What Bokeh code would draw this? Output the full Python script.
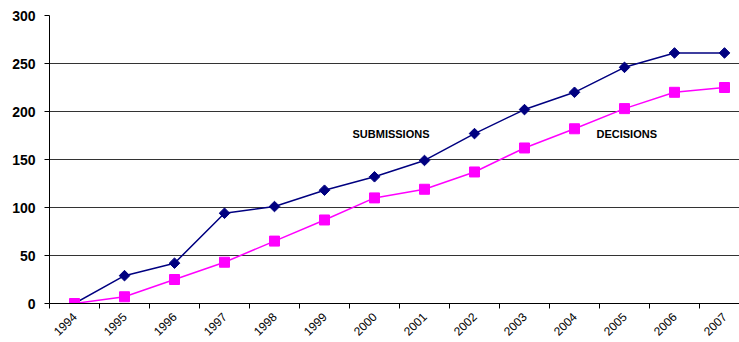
import math
from bokeh.plotting import figure
from bokeh.models import Range1d, FixedTicker, Label
from bokeh.embed import file_html
from bokeh.resources import INLINE

years = [1994, 1995, 1996, 1997, 1998, 1999, 2000, 2001, 2002, 2003, 2004, 2005, 2006, 2007]
submissions = [0, 29, 42, 94, 101, 118, 132, 149, 177, 202, 220, 246, 261, 261]
decisions = [0, 7, 25, 43, 65, 87, 110, 119, 137, 162, 182, 203, 220, 225]
y_ticks = [0, 50, 100, 150, 200, 250, 300]

FONT = "Liberation Sans"

p = figure(width=739, height=342, output_backend="svg", toolbar_location=None,
           x_range=Range1d(years[0] - 0.5, years[-1] + 0.3), y_range=Range1d(0, 300),
           min_border_left=49, min_border_right=0, min_border_top=15, min_border_bottom=39)
p.outline_line_color = None
p.background_fill_color = "white"
p.border_fill_color = "white"

boundaries = [y - 0.5 for y in years] + [years[-1] + 0.5]
p.xaxis.ticker = FixedTicker(ticks=years, minor_ticks=boundaries)
p.xaxis.major_tick_line_color = None
p.xaxis.major_tick_out = 0
p.xaxis.major_tick_in = 0
p.xaxis.minor_tick_line_color = "black"
p.xaxis.minor_tick_out = 5
p.xaxis.minor_tick_in = 0
p.xaxis.axis_line_color = "black"
p.xaxis.axis_line_width = 1
p.xaxis.major_label_orientation = math.pi / 4
p.xaxis.major_label_text_font = FONT
p.xaxis.major_label_text_font_size = "12px"
p.xaxis.major_label_text_line_height = 1.0
p.xaxis.major_label_text_color = "black"
p.xaxis.major_label_standoff = 6

p.yaxis.ticker = FixedTicker(ticks=y_ticks)
p.yaxis.major_tick_line_color = "black"
p.yaxis.major_tick_out = 5
p.yaxis.major_tick_in = 0
p.yaxis.minor_tick_line_color = None
p.yaxis.axis_line_color = "black"
p.yaxis.major_label_text_font = FONT
p.yaxis.major_label_text_font_size = "14px"
p.yaxis.major_label_text_font_style = "bold"
p.yaxis.major_label_text_color = "black"
p.yaxis.major_label_standoff = 9

p.xgrid.grid_line_color = None
p.ygrid.ticker = FixedTicker(ticks=y_ticks)
p.ygrid.grid_line_color = "#333333"
p.ygrid.grid_line_width = 1

p.line(years, submissions, line_color="#000080", line_width=1.5)
p.scatter(years, submissions, marker="square", size=7.5, angle=math.pi / 4,
          fill_color="#000080", line_color="#000080")
p.line(years, decisions, line_color="#FF00FF", line_width=1.5)
p.scatter(years, decisions, marker="square", size=10, fill_color="#FF00FF", line_color="#FF00FF")

p.add_layout(Label(x=1999.56, y=177, text="SUBMISSIONS", text_font=FONT, text_font_size="11px",
                   text_font_style="bold", text_baseline="middle", text_align="left", text_color="black"))
p.add_layout(Label(x=2004.44, y=177, text="DECISIONS", text_font=FONT, text_font_size="11px",
                   text_font_style="bold", text_baseline="middle", text_align="left", text_color="black"))

open("out.html", "w").write(file_html(p, INLINE))
